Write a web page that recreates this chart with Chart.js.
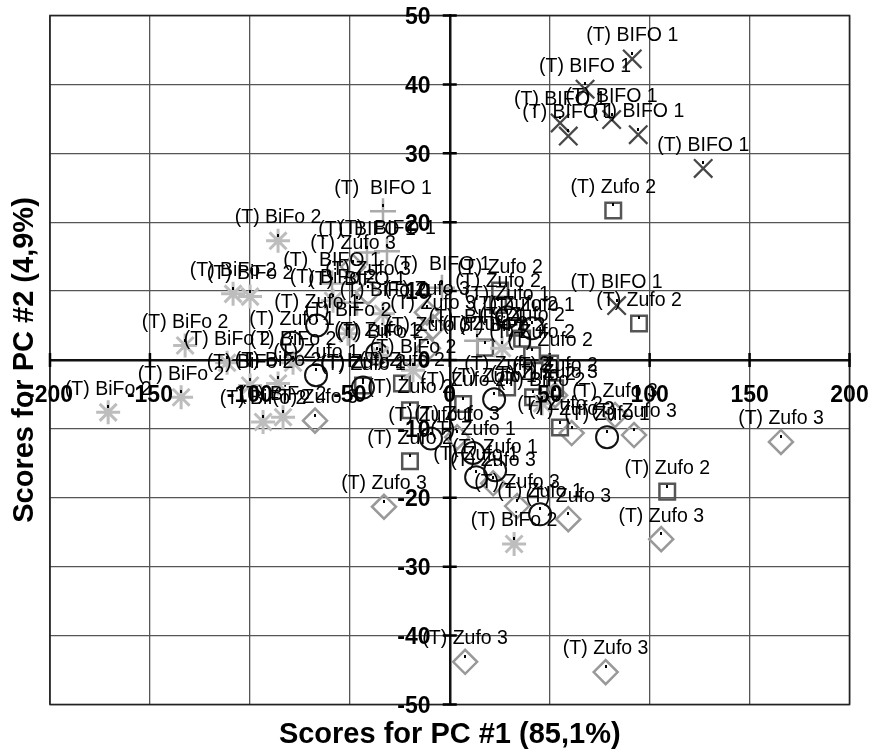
<!DOCTYPE html>
<html>
<head>
<meta charset="utf-8">
<title>PCA scores</title>
<script src="https://cdn.jsdelivr.net/npm/chart.js@4"></script>
<style>
  body { margin: 0; background: #fff; }
  canvas { display: block; }
</style>
</head>
<body>
<canvas id="scoresChart" width="869" height="749"></canvas>
<script>
const xTicks = [-200, -150, -100, -50, 0, 50, 100, 150, 200]
const yTicks = [-50, -40, -30, -20, -10, 0, 10, 20, 30, 40, 50]

// scores, one pair of lists per sample group
const bifo1CrossX = [91.3, 67.7, 81, 55.2, 59.3, 94.3, 126.8, 83.5]
const bifo1CrossY = [43.7, 39.3, 34.9, 34.4, 32.5, 32.7, 27.8, 7.9]

const bifo1PlusX = [-33.4, -41.4, -31.4, -58.9, -46.4, -3.9, 13.7]
const bifo1PlusY = [21.6, 15.6, 15.8, 11.1, 8.3, 10.5, 2.8]

const bifo2X = [-170.9, -134.4, -85.9, -108.4, -99.9, -132.4, -111.4, -78.4, -58.4, -50.9, -33.4, -18.4, -99.9, -85.9, -93.4, -83.4, 32.2, 26.2, 46.2, -34.9]
const bifo2Y = [-7.6, -5.4, 17.3, 9.6, 9.2, 2.1, -0.4, -0.4, 8.6, 3.8, 6.7, -1.5, -3.7, -3.4, -9, -8.3, -26.7, 1.7, -6.3, 0.7]

const zufo1X = [-66.9, -78.9, -66.4, -36.4, -43.4, 22.2, 78.7, -9.4, 13.2, 11.7, 22.7, 45.2, 28.7, 41.2]
const zufo1Y = [-2.2, 2.5, 5, 0.9, -4, -5.7, -11.2, -11.4, -17, -13.5, -16, -22.4, 6.2, 4.6]

const zufo2X = [81.8, 94.7, 108.8, 17.7, 32.7, 36.2, 41.2, 50.2, 25.2, 24.2, 28.7, 41.7, 52.7, 55.2, 6.7, -19.9, -19.9, -43.4, -23.9]
const zufo2Y = [21.7, 5.3, -19.1, 1.8, 4.7, 3.1, 0.7, -0.5, 10.1, 8, -4, -5.4, -4.1, -9.8, -6.4, -7.3, -14.7, -3.7, -3.4]

const zufo3X = [165.7, 105.8, 92.2, 61, -32.9, 21.7, 33.7, 59.3, 3.7, 7.7, 78, -67.4, -11.4, -8.4, -10.9, 52.7, 82.7, -48.4, -40.9]
const zufo3Y = [-11.9, -26, -10.9, -10.6, -21.3, -17.9, -21.2, -23.1, -11.2, -43.8, -45.3, -8.8, 6.9, 4.8, 1.7, -5.1, -8, 13.5, 9.8]

const toPoints = (xs, ys) => xs.map((x, i) => ({ x: x, y: ys[i] }))

const group = (label, xs, ys, style, radius, color, width) => ({
    label: label,
    data: toPoints(xs, ys),
    pointStyle: style,
    pointRadius: radius,
    pointBorderColor: color,
    pointBackgroundColor: 'rgba(0,0,0,0)',
    pointBorderWidth: width,
    showLine: false
})

// crossed axes get their tick marks on both sides, plus the outer frame
const axisTicks = {
    id: 'axisTicks',
    beforeDatasetsDraw(chart) {
        const { ctx, chartArea, scales: { x, y } } = chart
        const x0 = x.getPixelForValue(0)
        const y0 = y.getPixelForValue(0)
        ctx.save()
        ctx.strokeStyle = '#222'
        ctx.lineWidth = 1.6
        ctx.strokeRect(chartArea.left, chartArea.top, chartArea.right - chartArea.left, chartArea.bottom - chartArea.top)
        ctx.strokeStyle = '#000'
        ctx.lineWidth = 2.5
        ctx.beginPath()
        xTicks.forEach(v => {
            const px = x.getPixelForValue(v)
            ctx.moveTo(px, y0 - 7)
            ctx.lineTo(px, y0 + 7)
        })
        yTicks.forEach(v => {
            const py = y.getPixelForValue(v)
            ctx.moveTo(x0 - 7, py)
            ctx.lineTo(x0 + 7, py)
        })
        ctx.stroke()
        ctx.restore()
    }
}

// small dot and sample name above every marker
const pointNames = {
    id: 'pointNames',
    afterDatasetsDraw(chart) {
        const ctx = chart.ctx
        ctx.save()
        ctx.fillStyle = '#000'
        ctx.font = '19.5px "Liberation Sans"'
        ctx.textAlign = 'center'
        ctx.textBaseline = 'middle'
        chart.data.datasets.forEach((ds, i) => {
            chart.getDatasetMeta(i).data.forEach(pt => {
                ctx.fillRect(Math.round(pt.x) - 1, Math.round(pt.y) - 7, 2, 3)
                ctx.fillText(ds.label, pt.x, pt.y - 23)
            })
        })
        ctx.restore()
    }
}

// edge tick labels must not shrink the plot area
const noEdgePadding = scale => {
    scale.paddingTop = 0
    scale.paddingBottom = 0
    scale.paddingLeft = 0
    scale.paddingRight = 0
}

const tickFont = { family: '"Liberation Sans"', size: 23, weight: 'bold' }
const titleFont = { family: '"Liberation Sans"', size: 29, weight: 'bold', lineHeight: 1 }

new Chart(document.getElementById('scoresChart'), {
    type: 'scatter',
    data: {
        datasets: [
            group('(T) BIFO 1', bifo1CrossX, bifo1CrossY, 'crossRot', 13, '#484848', 2.3),
            group('(T)  BIFO 1', bifo1PlusX, bifo1PlusY, 'cross', 13, '#aaa', 2.5),
            group('(T) BiFo 2', bifo2X, bifo2Y, 'star', 12, '#bdbdbd', 3),
            group('(T) Zufo 1', zufo1X, zufo1Y, 'circle', 11, '#111', 2),
            group('(T) Zufo 2', zufo2X, zufo2Y, 'rect', 11, '#555', 2.5),
            group('(T) Zufo 3', zufo3X, zufo3Y, 'rectRot', 12, '#999', 2.5)
        ]
    },
    options: {
        responsive: false,
        animation: false,
        events: [],
        layout: { padding: { left: 10.5, right: 19.5, top: 14, bottom: 0 } },
        plugins: {
            legend: { display: false },
            tooltip: { enabled: false },
            title: {
                display: true,
                text: 'Scores for PC #1 (85,1%)',
                position: 'bottom',
                fullSize: false,
                color: '#000',
                font: titleFont,
                padding: { top: 15.5, bottom: 0 }
            },
            subtitle: {
                display: true,
                text: 'Scores for PC #2 (4,9%)',
                position: 'left',
                fullSize: false,
                color: '#000',
                font: titleFont,
                padding: { top: 0, bottom: 10.5 }
            }
        },
        scales: {
            x: {
                type: 'linear',
                min: -200,
                max: 200,
                position: { y: 0 },
                afterBuildTicks: axis => { axis.ticks = xTicks.map(v => ({ value: v })) },
                afterFit: noEdgePadding,
                grid: { color: '#555', lineWidth: 1.3, drawTicks: false },
                border: { color: '#111', width: 2.5 },
                ticks: { color: '#000', font: tickFont, padding: 22, maxRotation: 0, autoSkip: false, z: 1 }
            },
            y: {
                type: 'linear',
                min: -50,
                max: 50,
                position: { x: 0 },
                afterBuildTicks: axis => { axis.ticks = yTicks.map(v => ({ value: v })) },
                afterFit: noEdgePadding,
                grid: { color: '#555', lineWidth: 1.3, drawTicks: false },
                border: { color: '#111', width: 2.5 },
                ticks: {
                    color: '#000',
                    font: tickFont,
                    labelOffset: 2,
                    autoSkip: false,
                    z: 1,
                    callback: v => v + '   '
                }
            }
        }
    },
    plugins: [axisTicks, pointNames]
})
</script>
</body>
</html>
